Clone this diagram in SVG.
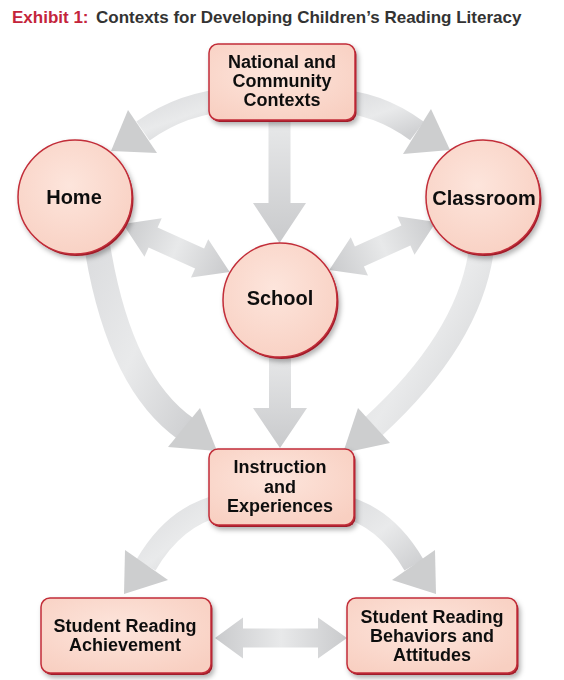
<svg xmlns="http://www.w3.org/2000/svg" width="564" height="680" viewBox="0 0 564 680">
<defs>
<style>
text{font-family:"Liberation Sans",Arial,sans-serif;font-weight:bold;}
.lbl{font-size:18px;fill:#111;text-anchor:middle;}
.clbl{font-size:20px;fill:#111;text-anchor:middle;}
.nd{fill:url(#nodeG);stroke:#c22d39;stroke-width:1.5;}
.nds{fill:#a01e2a;}
.head{fill:#cdcecf;}
.shaft{fill:none;stroke:url(#arcG);}
</style>
<radialGradient id="nodeG" cx="0.45" cy="0.4" r="0.7">
<stop offset="0" stop-color="#fde5dc"/>
<stop offset="1" stop-color="#f8cfc1"/>
</radialGradient>
<linearGradient id="arcG" x1="0" y1="0" x2="1" y2="1">
<stop offset="0" stop-color="#dcdddf"/>
<stop offset="0.5" stop-color="#e9eaeb"/>
<stop offset="1" stop-color="#d0d1d3"/>
</linearGradient>
<linearGradient id="vG" x1="0" y1="0" x2="0" y2="1">
<stop offset="0" stop-color="#e8e9ea"/>
<stop offset="1" stop-color="#c9cacc"/>
</linearGradient>
<linearGradient id="dG" x1="0" y1="0" x2="1" y2="0">
<stop offset="0" stop-color="#c9cacc"/>
<stop offset="0.5" stop-color="#e8e9ea"/>
<stop offset="1" stop-color="#c9cacc"/>
</linearGradient>
<filter id="sh" x="-20%" y="-20%" width="150%" height="150%">
<feDropShadow dx="2" dy="3" stdDeviation="2.5" flood-color="#000" flood-opacity="0.3"/>
</filter>
<polygon id="dbl" points="0,0 33,-21 33,-11 84,-11 84,-21 117,0 84,21 84,11 33,11 33,21"/>
</defs>
<rect width="564" height="680" fill="#fff"/>
<text x="12" y="23" font-size="17"><tspan fill="#c4243b">Exhibit 1:</tspan><tspan x="96" fill="#333">Contexts for Developing Children’s Reading Literacy</tspan></text>

<g id="connectors">
<!-- National -> Home -->
<path class="shaft" d="M 232 100 Q 184 102 143 131" stroke-width="23"/>
<polygon class="head" points="128,110 157,153 111,151"/>
<!-- National -> Classroom -->
<path class="shaft" d="M 330 100 Q 378 102 417 131" stroke-width="23"/>
<polygon class="head" points="431,109 403,154 450,150"/>
<!-- National -> School -->
<polygon fill="url(#vG)" points="268.5,118 290.5,118 290.5,203 306,203 279.5,243 253,203 268.5,203"/>
<!-- Home <-> School -->
<use href="#dbl" fill="url(#dG)" transform="translate(123,224) rotate(24.2)"/>
<!-- Classroom <-> School -->
<use href="#dbl" fill="url(#dG)" transform="translate(436,222) rotate(155.8)"/>
<!-- Home -> Instruction -->
<path class="shaft" d="M 97 245 Q 119 382 186 429" stroke-width="26"/>
<polygon class="head" points="200,408 168,447 217,451"/>
<!-- Classroom -> Instruction -->
<path class="shaft" d="M 482 245 Q 472 336 374 426" stroke-width="25"/>
<polygon class="head" points="358,408 390,443 343,453"/>
<!-- School -> Instruction -->
<polygon fill="url(#vG)" points="269,350 291,350 291,408 307,408 280,448 253,408 269,408"/>
<!-- Instruction -> Achievement -->
<path class="shaft" d="M 222 505 Q 175 515 146 565" stroke-width="22"/>
<polygon class="head" points="125,550 168,580 124,594"/>
<!-- Instruction -> Behaviors -->
<path class="shaft" d="M 338 505 Q 385 515 414 565" stroke-width="22"/>
<polygon class="head" points="435,550 392,580 436,594"/>
<!-- Achievement <-> Behaviors -->
<polygon fill="url(#dG)" points="215,638 243,617.5 243,628.5 318,628.5 318,617.5 347,638 318,658.5 318,647.5 243,647.5 243,658.5"/>
</g>

<g id="national" filter="url(#sh)">
<rect class="nds" x="210.5" y="46" width="146" height="76" rx="9"/>
<rect class="nd" x="209" y="44" width="146" height="76" rx="9"/>
<text class="lbl" x="282" y="68">National and</text>
<text class="lbl" x="282" y="87">Community</text>
<text class="lbl" x="282" y="106">Contexts</text>
</g>

<g id="home" filter="url(#sh)">
<circle class="nds" cx="76.5" cy="199" r="57"/>
<circle class="nd" cx="75" cy="197" r="57"/>
<text class="clbl" x="74" y="204">Home</text>
</g>

<g id="classroom" filter="url(#sh)">
<circle class="nds" cx="484.5" cy="199" r="57"/>
<circle class="nd" cx="483" cy="197" r="57"/>
<text class="clbl" x="484" y="205">Classroom</text>
</g>

<g id="school" filter="url(#sh)">
<circle class="nds" cx="281.5" cy="302" r="57"/>
<circle class="nd" cx="280" cy="300" r="57"/>
<text class="clbl" x="280" y="305">School</text>
</g>

<g id="instruction" filter="url(#sh)">
<rect class="nds" x="210.5" y="451" width="145" height="76" rx="9"/>
<rect class="nd" x="209" y="449" width="145" height="76" rx="9"/>
<text class="lbl" x="280" y="473">Instruction</text>
<text class="lbl" x="280" y="493">and</text>
<text class="lbl" x="280" y="512">Experiences</text>
</g>

<g id="achievement" filter="url(#sh)">
<rect class="nds" x="42.5" y="600" width="170" height="75" rx="9"/>
<rect class="nd" x="41" y="598" width="170" height="75" rx="9"/>
<text class="lbl" x="125" y="632">Student Reading</text>
<text class="lbl" x="125" y="651">Achievement</text>
</g>

<g id="behaviors" filter="url(#sh)">
<rect class="nds" x="348.5" y="600" width="170" height="75" rx="9"/>
<rect class="nd" x="347" y="598" width="170" height="75" rx="9"/>
<text class="lbl" x="432" y="623">Student Reading</text>
<text class="lbl" x="432" y="642">Behaviors and</text>
<text class="lbl" x="432" y="661">Attitudes</text>
</g>
</svg>
